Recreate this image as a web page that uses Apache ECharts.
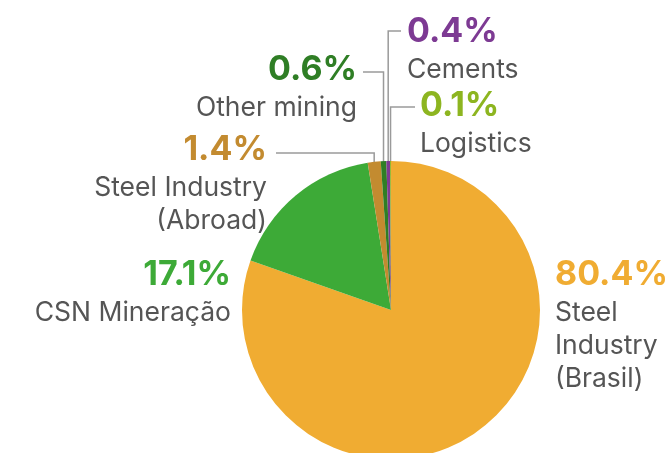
<!DOCTYPE html>
<html>
<head>
<meta charset="utf-8">
<script src="https://cdn.jsdelivr.net/npm/echarts@6/dist/echarts.min.js"></script>
<style>
  html, body { margin: 0; padding: 0; background: #fff; }
  #chart { width: 669px; height: 453px; }
</style>
</head>
<body>
<div id="chart"></div>
<script>
// Revenue share by business segment
const segments = ['Steel\nIndustry\n(Brasil)', 'CSN Mineração', 'Steel Industry\n(Abroad)', 'Other mining', 'Cements', 'Logistics'];
const shares = [80.4, 17.1, 1.4, 0.6, 0.4, 0.1];
const colors = ['#F0AC32', '#3DAA37', '#C38B30', '#2F7E25', '#7D3A93', '#8DB520'];

// Where each label sits, and the height of its leader's horizontal run
const labelSpots = [
  { x: 555, y: 253, align: 'left',  leader: null },
  { x: 231, y: 253, align: 'right', leader: null },
  { x: 267, y: 128, align: 'right', leader: { y: 153, end: 276 } },
  { x: 357, y: 48,  align: 'right', leader: { y: 72,  end: 363 } },
  { x: 407, y: 10,  align: 'left',  leader: { y: 31,  end: 401 } },
  { x: 420, y: 84,  align: 'left',  leader: { y: 107, end: 415 } }
];

const center = [391, 310];
const radius = 149;

const chart = echarts.init(document.getElementById('chart'), null, { renderer: 'canvas' });

const data = shares.map((v, i) => ({
  value: v,
  name: segments[i],
  itemStyle: { color: colors[i] },
  label: {
    rich: {
      p: { fontFamily: 'Inter', fontWeight: 'bold', fontSize: 34, lineHeight: 44, color: colors[i] },
      n: { fontFamily: 'Inter', fontSize: 26.5, lineHeight: 33, color: '#555555' }
    }
  },
  labelLine: { show: !!labelSpots[i].leader }
}));

// Edge point of a slice at its middle angle (clockwise from 12 o'clock)
function edgePoint(idx) {
  const total = shares.reduce((a, b) => a + b, 0);
  let before = 0;
  for (let k = 0; k < idx; k++) before += shares[k];
  const mid = (before + shares[idx] / 2) / total * Math.PI * 2;
  return [center[0] + radius * Math.sin(mid), center[1] - radius * Math.cos(mid)];
}

chart.setOption({
  animation: false,
  series: [{
    type: 'pie',
    center: center,
    radius: radius,
    startAngle: 90,
    clockwise: true,
    avoidLabelOverlap: false,
    emphasis: { disabled: true },
    itemStyle: { borderWidth: 0 },
    label: {
      show: true,
      position: 'outside',
      formatter: p => '{p|' + p.value.toFixed(1) + '%}\n{n|' + p.name + '}'
    },
    labelLine: {
      show: true,
      lineStyle: { color: '#9a9a9a', width: 1.5 }
    },
    labelLayout: params => {
      const s = labelSpots[params.dataIndex];
      const out = { x: s.x, y: s.y, align: s.align, verticalAlign: 'top' };
      if (s.leader) {
        const e = edgePoint(params.dataIndex);
        out.labelLinePoints = [[e[0], e[1] + 1], [e[0], s.leader.y], [s.leader.end, s.leader.y]];
      }
      return out;
    },
    data: data
  }]
});
</script>
</body>
</html>
